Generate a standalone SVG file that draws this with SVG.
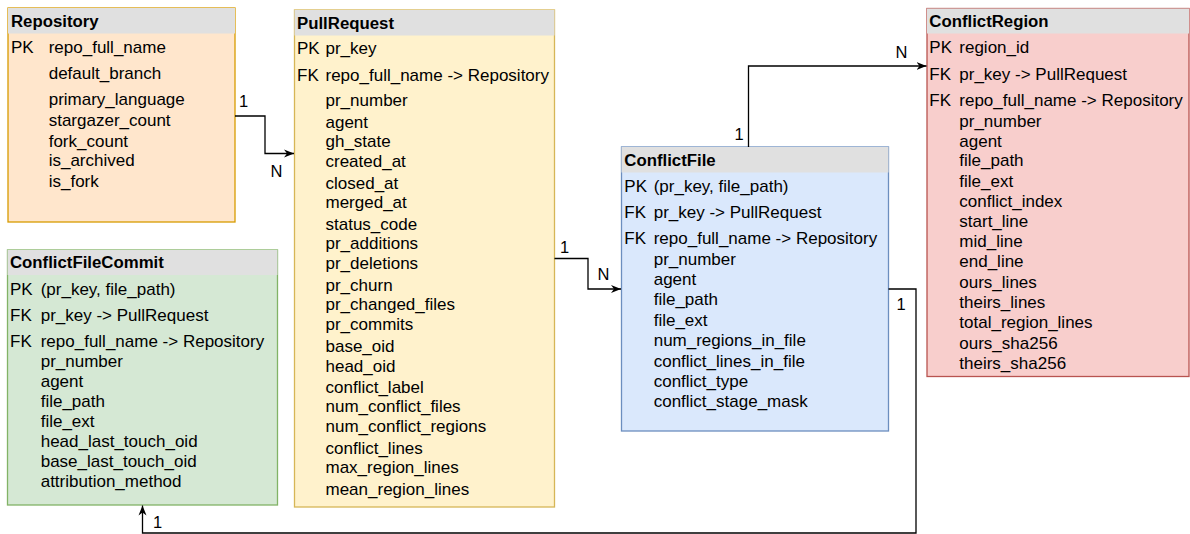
<svg xmlns="http://www.w3.org/2000/svg" width="1190" height="534" viewBox="0 0 1190 534">
<style>
text{font-family:"Liberation Sans",Arial,sans-serif;font-size:17px;fill:#000}
.h{font-weight:bold;font-size:16.8px}
.lbl{font-size:16.5px}
.hdr{fill:#e0e0e0;stroke:none}
.con{fill:none;stroke:#000;stroke-width:1.3}
.b{stroke-width:1.3}
</style>
<defs>
<marker id="arr" markerUnits="userSpaceOnUse" markerWidth="12" markerHeight="10" refX="10" refY="4.5" orient="auto">
<path d="M0,0.5 L10,4.5 L0,8.5 L3,4.5 z" fill="#000"/>
</marker>
</defs>
<rect width="1190" height="534" fill="#fff"/>

<g id="Repository">
<rect class="b" x="8" y="8" width="227" height="214" fill="#ffe6cc" stroke="#d79b00"/>
<rect class="hdr" x="8" y="8" width="227" height="25.5"/>
<text class="h" x="11" y="27">Repository</text>
<text x="11" y="53.3">PK</text><text x="48.7" y="53.3">repo_full_name</text>
<text x="48.7" y="78.7">default_branch</text>
<text x="48.7" y="105.3">primary_language</text>
<text x="48.7" y="126">stargazer_count</text>
<text x="48.7" y="146.7">fork_count</text>
<text x="48.7" y="166.3">is_archived</text>
<text x="48.7" y="187">is_fork</text>
</g>

<g id="PullRequest">
<rect class="b" x="294.5" y="10" width="260" height="497" fill="#fff2cc" stroke="#d6b656"/>
<rect class="hdr" x="294.5" y="10" width="260" height="25.5"/>
<text class="h" x="297" y="28.5">PullRequest</text>
<text x="297" y="54.3">PK</text><text x="325.5" y="54.3">pr_key</text>
<text x="297" y="81">FK</text><text x="325.5" y="81">repo_full_name -&gt; Repository</text>
<text x="325.5" y="106">pr_number</text>
<text x="325.5" y="128.3">agent</text>
<text x="325.5" y="147.3">gh_state</text>
<text x="325.5" y="166.7">created_at</text>
<text x="325.5" y="188.7">closed_at</text>
<text x="325.5" y="207.7">merged_at</text>
<text x="325.5" y="230">status_code</text>
<text x="325.5" y="249.3">pr_additions</text>
<text x="325.5" y="269">pr_deletions</text>
<text x="325.5" y="291">pr_churn</text>
<text x="325.5" y="310">pr_changed_files</text>
<text x="325.5" y="330">pr_commits</text>
<text x="325.5" y="351.7">base_oid</text>
<text x="325.5" y="371.7">head_oid</text>
<text x="325.5" y="393.3">conflict_label</text>
<text x="325.5" y="412.3">num_conflict_files</text>
<text x="325.5" y="431.7">num_conflict_regions</text>
<text x="325.5" y="454">conflict_lines</text>
<text x="325.5" y="472.7">max_region_lines</text>
<text x="325.5" y="495">mean_region_lines</text>
</g>

<g id="ConflictFile">
<rect class="b" x="621.5" y="147" width="267" height="284" fill="#dae8fc" stroke="#6c8ebf"/>
<rect class="hdr" x="621.5" y="147" width="267" height="25.5"/>
<text class="h" x="624.3" y="166">ConflictFile</text>
<text x="624.3" y="191.7">PK</text><text x="653.7" y="191.7">(pr_key, file_path)</text>
<text x="624.3" y="218.3">FK</text><text x="653.7" y="218.3">pr_key -&gt; PullRequest</text>
<text x="624.3" y="244.3">FK</text><text x="653.7" y="244.3">repo_full_name -&gt; Repository</text>
<text x="653.7" y="265">pr_number</text>
<text x="653.7" y="285">agent</text>
<text x="653.7" y="305">file_path</text>
<text x="653.7" y="326">file_ext</text>
<text x="653.7" y="346">num_regions_in_file</text>
<text x="653.7" y="366.7">conflict_lines_in_file</text>
<text x="653.7" y="386.7">conflict_type</text>
<text x="653.7" y="406.7">conflict_stage_mask</text>
</g>

<g id="ConflictRegion">
<rect class="b" x="927" y="8.5" width="262" height="368" fill="#f8cecc" stroke="#b85450"/>
<rect class="hdr" x="927" y="8.5" width="262" height="25"/>
<text class="h" x="929.3" y="26.7">ConflictRegion</text>
<text x="929.3" y="53.3">PK</text><text x="959.3" y="53.3">region_id</text>
<text x="929.3" y="80">FK</text><text x="959.3" y="80">pr_key -&gt; PullRequest</text>
<text x="929.3" y="106">FK</text><text x="959.3" y="106">repo_full_name -&gt; Repository</text>
<text x="959.3" y="126.7">pr_number</text>
<text x="959.3" y="146.7">agent</text>
<text x="959.3" y="166.3">file_path</text>
<text x="959.3" y="186.7">file_ext</text>
<text x="959.3" y="206.7">conflict_index</text>
<text x="959.3" y="227.3">start_line</text>
<text x="959.3" y="247.3">mid_line</text>
<text x="959.3" y="267.3">end_line</text>
<text x="959.3" y="288.3">ours_lines</text>
<text x="959.3" y="308.3">theirs_lines</text>
<text x="959.3" y="328.3">total_region_lines</text>
<text x="959.3" y="349">ours_sha256</text>
<text x="959.3" y="369">theirs_sha256</text>
</g>

<g id="ConflictFileCommit">
<rect class="b" x="7.5" y="250" width="270" height="255" fill="#d5e8d4" stroke="#82b366"/>
<rect class="hdr" x="7.5" y="250" width="270" height="25"/>
<text class="h" x="10" y="268.3">ConflictFileCommit</text>
<text x="10" y="295">PK</text><text x="40.7" y="295">(pr_key, file_path)</text>
<text x="10" y="321">FK</text><text x="40.7" y="321">pr_key -&gt; PullRequest</text>
<text x="10" y="346.7">FK</text><text x="40.7" y="346.7">repo_full_name -&gt; Repository</text>
<text x="40.7" y="366.7">pr_number</text>
<text x="40.7" y="386.7">agent</text>
<text x="40.7" y="406.7">file_path</text>
<text x="40.7" y="426.7">file_ext</text>
<text x="40.7" y="446.7">head_last_touch_oid</text>
<text x="40.7" y="467.3">base_last_touch_oid</text>
<text x="40.7" y="487.3">attribution_method</text>
</g>

<g id="connectors">
<path class="con" d="M235,116 H265 V153.5 H294" marker-end="url(#arr)"/>
<path class="con" d="M554.5,258.5 H588 V289 H621" marker-end="url(#arr)"/>
<path class="con" d="M748.5,147 V66 H926.5" marker-end="url(#arr)"/>
<path class="con" d="M888.5,289 H916 V533 H142.5 V505.5" marker-end="url(#arr)"/>
<text class="lbl" x="239" y="106.5">1</text>
<text class="lbl" x="270.5" y="176.5">N</text>
<text class="lbl" x="560" y="252.5">1</text>
<text class="lbl" x="597.5" y="279.5">N</text>
<text class="lbl" x="895.5" y="57.5">N</text>
<text class="lbl" x="734.5" y="139.5">1</text>
<text class="lbl" x="896.5" y="309.5">1</text>
<text class="lbl" x="153" y="527.5">1</text>
</g>
</svg>
